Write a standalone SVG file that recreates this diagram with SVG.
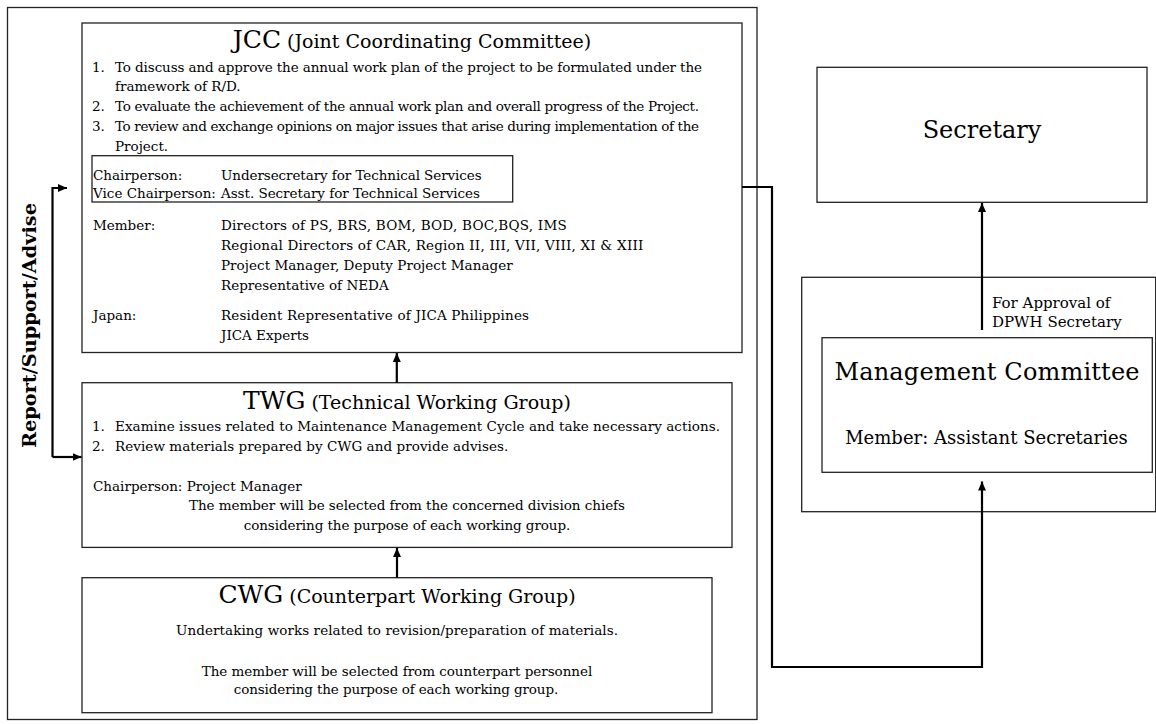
<svg xmlns="http://www.w3.org/2000/svg" width="1156" height="724" viewBox="0 0 1156 724">
<style>
  .box{fill:#fff;stroke:#222;stroke-width:1.3}
  .frame{fill:none;stroke:#222;stroke-width:1.3}
  text{font-family:"DejaVu Serif","Liberation Serif",serif;fill:#000}
  .t{font-size:13.5px}
  .big{font-size:25px}
  .mid{font-size:19px}
  .c{text-anchor:middle}
  .conn{fill:none;stroke:#000;stroke-width:2.2}
</style>
<defs>
  <marker id="ah" markerUnits="userSpaceOnUse" markerWidth="10" markerHeight="8" refX="9" refY="4" orient="auto">
    <path d="M0,0 L9,4 L0,8 z" fill="#000"/>
  </marker>
</defs>
<rect width="1156" height="724" fill="#fff"/>

<g id="outer-frame">
  <rect class="frame" x="7.5" y="7.5" width="749.5" height="712"/>
</g>

<g id="label-report">
  <text transform="translate(36,325.5) rotate(-90)" class="c" font-size="19" font-weight="bold" textLength="245" lengthAdjust="spacingAndGlyphs">Report/Support/Advise</text>
</g>

<g id="jcc">
  <rect class="box" x="82" y="23" width="660" height="329.5"/>
  <text class="c" x="412" y="48.3"><tspan class="big">JCC</tspan><tspan class="mid"> (Joint Coordinating Committee)</tspan></text>
  <text class="t" x="92" y="71.7">1.</text>
  <text class="t" x="115" y="71.7" textLength="587">To discuss and approve the annual work plan of the project to be formulated under the</text>
  <text class="t" x="115" y="91">framework of R/D.</text>
  <text class="t" x="92" y="111">2.</text>
  <text class="t" x="115" y="111" textLength="584">To evaluate the achievement of the annual work plan and overall progress of the Project.</text>
  <text class="t" x="92" y="130.7">3.</text>
  <text class="t" x="115" y="130.7" textLength="584">To review and exchange opinions on major issues that arise during implementation of the</text>
  <text class="t" x="115" y="150.5">Project.</text>
  <rect class="frame" x="92" y="155.7" width="420.7" height="46.3"/>
  <text class="t" x="93" y="180">Chairperson:</text>
  <text class="t" x="221" y="180" textLength="260.7">Undersecretary for Technical Services</text>
  <text class="t" x="93" y="198">Vice Chairperson:</text>
  <text class="t" x="221" y="198" textLength="259">Asst. Secretary for Technical Services</text>
  <text class="t" x="93" y="230">Member:</text>
  <text class="t" x="221" y="230" textLength="345.7">Directors of PS, BRS, BOM, BOD, BOC,BQS, IMS</text>
  <text class="t" x="221" y="250" textLength="422.3">Regional Directors of CAR, Region II, III, VII, VIII, XI &amp; XIII</text>
  <text class="t" x="221" y="270" textLength="291.7">Project Manager, Deputy Project Manager</text>
  <text class="t" x="221" y="289.5">Representative of NEDA</text>
  <text class="t" x="93" y="320">Japan:</text>
  <text class="t" x="221" y="320" textLength="308">Resident Representative of JICA Philippines</text>
  <text class="t" x="221" y="339.5">JICA Experts</text>
</g>

<g id="twg">
  <rect class="box" x="82" y="382.7" width="650" height="164.7"/>
  <text class="c" x="407" y="409"><tspan class="big">TWG</tspan><tspan class="mid"> (Technical Working Group)</tspan></text>
  <text class="t" x="92" y="430.7">1.</text>
  <text class="t" x="115" y="430.7" textLength="605">Examine issues related to Maintenance Management Cycle and take necessary actions.</text>
  <text class="t" x="92" y="450.7">2.</text>
  <text class="t" x="115" y="450.7" textLength="393.3">Review materials prepared by CWG and provide advises.</text>
  <text class="t" x="93" y="490.7" textLength="208.7">Chairperson: Project Manager</text>
  <text class="t c" x="407" y="510" textLength="436">The member will be selected from the concerned division chiefs</text>
  <text class="t c" x="407" y="530" textLength="326.7">considering the purpose of each working group.</text>
</g>

<g id="cwg">
  <rect class="box" x="82" y="577.7" width="630" height="135"/>
  <text class="c" x="397" y="602.7"><tspan class="big">CWG</tspan><tspan class="mid"> (Counterpart Working Group)</tspan></text>
  <text class="t c" x="397" y="635" textLength="442">Undertaking works related to revision/preparation of materials.</text>
  <text class="t c" x="397" y="676" textLength="390.6">The member will be selected from counterpart personnel</text>
  <text class="t c" x="396" y="694" textLength="324.4">considering the purpose of each working group.</text>
</g>

<g id="secretary">
  <rect class="box" x="817" y="67.3" width="330" height="135"/>
  <text class="c" x="982" y="138.3" font-size="24">Secretary</text>
</g>

<g id="management-committee">
  <rect class="box" x="801.7" y="277.3" width="354" height="234.4"/>
  <rect class="box" x="822" y="337.7" width="330.3" height="134.6"/>
  <text class="c" x="987" y="380" font-size="24" textLength="305">Management Committee</text>
  <text class="c" x="986.5" y="444.3" font-size="18" textLength="282.7">Member: Assistant Secretaries</text>
</g>

<g id="connectors">
  <path class="conn" d="M396.8,382.7 L396.8,353" marker-end="url(#ah)"/>
  <path class="conn" d="M397,577.7 L397,548" marker-end="url(#ah)"/>
  <path class="conn" d="M52.5,457 L52.5,188 L67,188" marker-end="url(#ah)"/>
  <path class="conn" d="M52.5,457 L81.5,457" marker-end="url(#ah)"/>
  <path class="conn" d="M742,187 L772,187 L772,667 L982,667 L982,481.5" marker-end="url(#ah)"/>
  <path class="conn" d="M982,330 L982,203" marker-end="url(#ah)"/>
  <text x="992" y="307.7" font-size="15">For Approval of</text>
  <text x="992" y="326.7" font-size="15">DPWH Secretary</text>
</g>
</svg>
